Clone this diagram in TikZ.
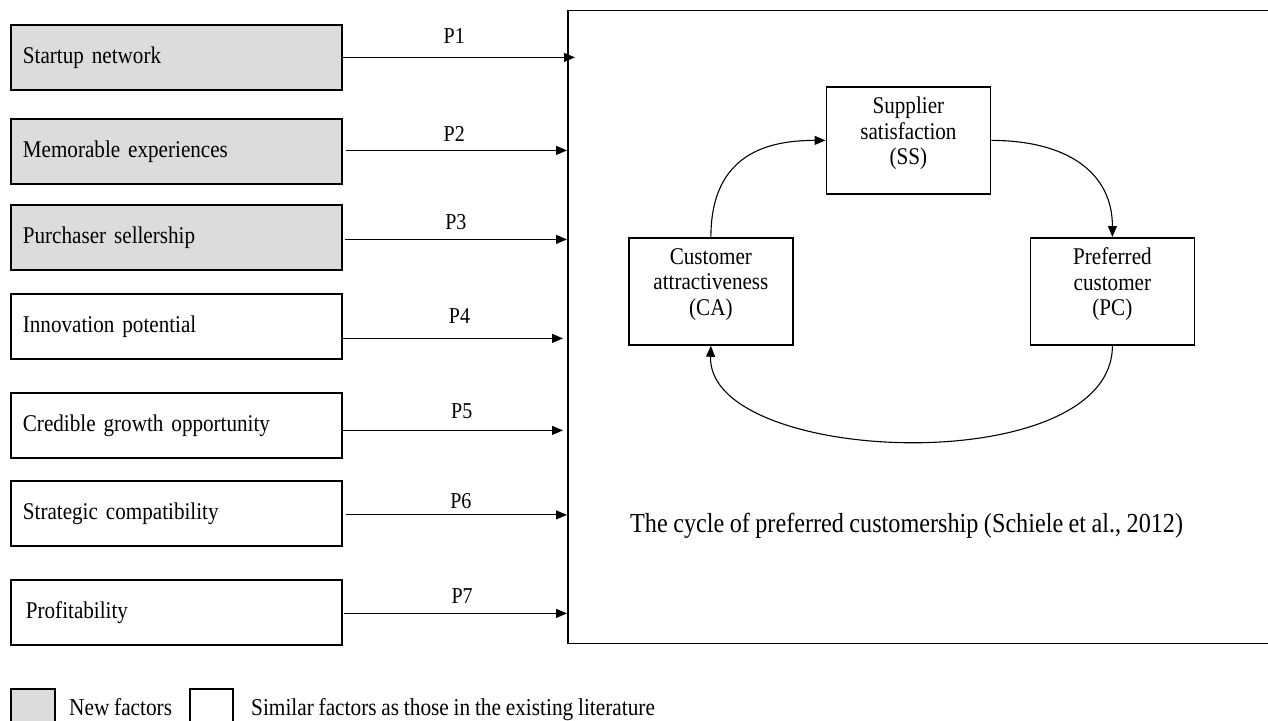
\documentclass[tikz,border=0pt]{standalone}
\usepackage{fontspec}
\setmainfont{Liberation Serif}[FakeStretch=0.88,WordSpace=0.9]
\usetikzlibrary{arrows.meta,calc}
\definecolor{newgray}{RGB}{220,220,220}
\tikzset{
  fbox/.style={draw, line width=1.8pt, minimum width=331pt, minimum height=65pt,
    text width=307pt, inner xsep=12pt, align=left, font=\fontsize{24}{28}\selectfont, anchor=north west},
  newf/.style={fbox, fill=newgray},
  cbox/.style={draw, line width=1.8pt, minimum width=164pt, minimum height=107pt,
    anchor=north west, inner sep=0pt},
  ctext/.style={align=center, font=\fontsize{24}{25.5}\selectfont, inner sep=0pt},
  arr/.style={line width=1.1pt, -{Triangle[length=11pt,width=9pt]}},
  plab/.style={font=\fontsize{22.7}{26}\selectfont, anchor=base, inner sep=0pt},
  legtext/.style={font=\fontsize{24.2}{28}\selectfont, anchor=base west, inner sep=0pt},
}
\begin{document}
\begin{tikzpicture}[x=1pt,y=-1pt]
\useasboundingbox (0,0) rectangle (1268,720);
\clip (0,0) rectangle (1268,720);
% big box (open on the right)
\node[draw, line width=1.8pt, minimum width=720pt, minimum height=633pt, anchor=north west, inner sep=0pt] (big) at (567,9.5) {};
% factor boxes
\node[newf] (b1) at (10,24) {Startup network};
\node[newf] (b2) at (10,118) {Memorable experiences};
\node[newf] (b3) at (10,204) {Purchaser sellership};
\node[fbox] (b4) at (10,293) {Innovation potential};
\node[fbox] (b5) at (10,392) {Credible growth opportunity};
\node[fbox] (b6) at (10,480) {Strategic compatibility};
\node[fbox, inner xsep=15pt, text width=301pt] (b7) at (10,579) {Profitability};
% arrows with labels
\draw[arr] (b1.east) -- ($(b1.east -| big.west)+(8,0)$) node[plab, pos=0.48, yshift=14pt] {P1};
\draw[arr] ([xshift=3pt,yshift=1pt]b2.east) -- ([yshift=1pt]b2.east -| big.west) node[plab, pos=0.49, yshift=9pt] {P2};
\draw[arr] ([xshift=2pt,yshift=-2pt]b3.east) -- ([yshift=-2pt]b3.east -| big.west) node[plab, pos=0.5, yshift=10pt] {P3};
\draw[arr] ([yshift=-12pt]b4.east) -- ([xshift=-4pt,yshift=-12pt]b4.east -| big.west) node[plab, pos=0.53, yshift=15pt] {P4};
\draw[arr] ([yshift=-5pt]b5.east) -- ([xshift=-4pt,yshift=-5pt]b5.east -| big.west) node[plab, pos=0.54, yshift=12pt] {P5};
\draw[arr] ([xshift=3pt,yshift=-1.5pt]b6.east) -- ([yshift=-1.5pt]b6.east -| big.west) node[plab, pos=0.52, yshift=6pt] {P6};
\draw[arr] ([xshift=1pt,yshift=-1pt]b7.east) -- ([yshift=-1pt]b7.east -| big.west) node[plab, pos=0.53, yshift=10pt] {P7};
% cycle
\node[cbox] (ss) at (825.5,86) {};
\node[cbox] (ca) at (628,237) {};
\node[cbox] (pc) at (1029.5,237) {};
\node[ctext] (sst) at ([yshift=7pt]ss.center) {Supplier\\satisfaction\\(SS)};
\node[ctext] (cat) at ([yshift=7pt]ca.center) {Customer\\attractiveness\\(CA)};
\node[ctext] (pct) at ([yshift=7pt]pc.center) {Preferred\\customer\\(PC)};
\draw[arr] (ca.north) .. controls ([yshift=85pt]ca.north) and ([xshift=-55pt]ss.west) .. (ss.west);
\draw[arr] (ss.east) .. controls ([xshift=75pt]ss.east) and ([yshift=65pt]pc.north) .. (pc.north);
\draw[arr] (pc.south) .. controls ([yshift=-135pt]pc.south) and ([xshift=-4pt,yshift=-120pt]ca.south) .. (ca.south);
\node[font=\fontsize{27.5}{30}\selectfont, anchor=base west, inner sep=0pt] (cap) at (630,532) {The cycle of preferred customership (Schiele et al., 2012)};
% legend
\node[draw, line width=1.8pt, fill=newgray, minimum width=44pt, minimum height=50pt, anchor=north west, inner sep=0pt] (lg1) at (10,688) {};
\node[legtext] (lt1) at (69,715) {New factors};
\node[draw, line width=1.8pt, minimum width=43pt, minimum height=50pt, anchor=north west, inner sep=0pt] (lg2) at (189,688) {};
\node[legtext] (lt2) at (251,715) {Similar factors as those in the existing literature};
\end{tikzpicture}
\end{document}
